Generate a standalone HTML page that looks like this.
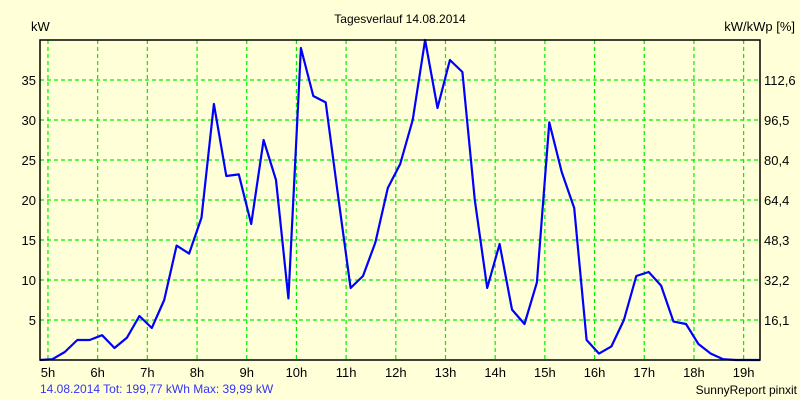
<!DOCTYPE html>
<html><head><meta charset="utf-8"><style>
body{margin:0;background:#ffffd8;}
svg{display:block;font-family:"Liberation Sans",sans-serif;font-size:12px;}
</style></head><body>
<svg id="chart" width="800" height="400">
<rect width="800" height="400" fill="#ffffd8"/>
<text x="400" y="23" text-anchor="middle" fill="#000">Tagesverlauf 14.08.2014</text>
<text x="31" y="31" fill="#000" font-size="13">kW</text>
<text x="795" y="31" text-anchor="end" fill="#000" font-size="13">kW/kWp [%]</text>
<g id="grid"></g>
<g id="ticks"></g>
<polyline id="line" fill="none" stroke="#0000ff" stroke-width="2.2" stroke-linejoin="round"/>
<rect x="40" y="40" width="720" height="320" fill="none" stroke="#000" stroke-width="1.5"/>
<text x="40" y="393" fill="#3333ff">14.08.2014 Tot: 199,77 kWh Max: 39,99 kW</text>
<text x="797" y="394" text-anchor="end" fill="#000">SunnyReport pinxit</text>
</svg>
<script>
const hourTicks = [5,6,7,8,9,10,11,12,13,14,15,16,17,18,19];
const leftTicks = [5,10,15,20,25,30,35];
const rightTickLabels = ["16,1","32,2","48,3","64,4","80,4","96,5","112,6"];
const startHour = 4.92;
const stepHours = 0.25;
const powerKW = [0,0.1,1,2.5,2.5,3.1,1.5,2.8,5.5,4,7.5,14.3,13.3,17.8,32,23,23.2,17,27.5,22.5,7.7,39,33,32.2,20.5,9,10.5,14.7,21.5,24.5,30,40,31.5,37.5,36,20,9,14.5,6.3,4.5,9.7,29.7,23.5,19,2.5,0.8,1.7,5,10.5,11,9.3,4.8,4.5,2,0.8,0.1,0,0,0];

const X0=40, X1=760, Y0=360, Y1=40;
const hMin=4.92, hMax=19.41, vMax=40;
function xs(h){return X0+(h-hMin)/(hMax-hMin)*(X1-X0);}
function ys(v){return Y0-v/vMax*(Y0-Y1);}
const NS="http://www.w3.org/2000/svg";
const grid=document.getElementById('grid'), ticks=document.getElementById('ticks');
function mk(tag,attrs,parent){const e=document.createElementNS(NS,tag);for(const k in attrs)e.setAttribute(k,attrs[k]);parent.appendChild(e);return e;}
hourTicks.forEach(h=>{
  const x=xs(h)+4;
  const l=mk('line',{x1:x,x2:x,y1:Y1,y2:Y0,stroke:'#00ee00','stroke-width':1.2,'stroke-dasharray':'4,3'},grid);
  
  
  const t=mk('text',{x:x,y:377,'text-anchor':'middle',fill:'#000','font-size':13},ticks);
  t.textContent=h+'h';
  
  
});
leftTicks.forEach((v,i)=>{
  const y=ys(v);
  const l=mk('line',{x1:X0,x2:X1,y1:y,y2:y,stroke:'#00ee00','stroke-width':1.2,'stroke-dasharray':'4,3'},grid);
  
  
  const t=mk('text',{x:36,y:y+5,'text-anchor':'end',fill:'#000','font-size':13},ticks);
  t.textContent=v;
  
  
  const r=mk('text',{x:764,y:y+5,fill:'#000','font-size':13},ticks);
  r.textContent=rightTickLabels[i];
  
  
});
document.getElementById('line').setAttribute('points',powerKW.map((v,i)=>{
  const h=Math.min(startHour+i*stepHours,hMax);
  return xs(h).toFixed(1)+','+ys(v).toFixed(1);
}).join(' '));
</script>
</body></html>
